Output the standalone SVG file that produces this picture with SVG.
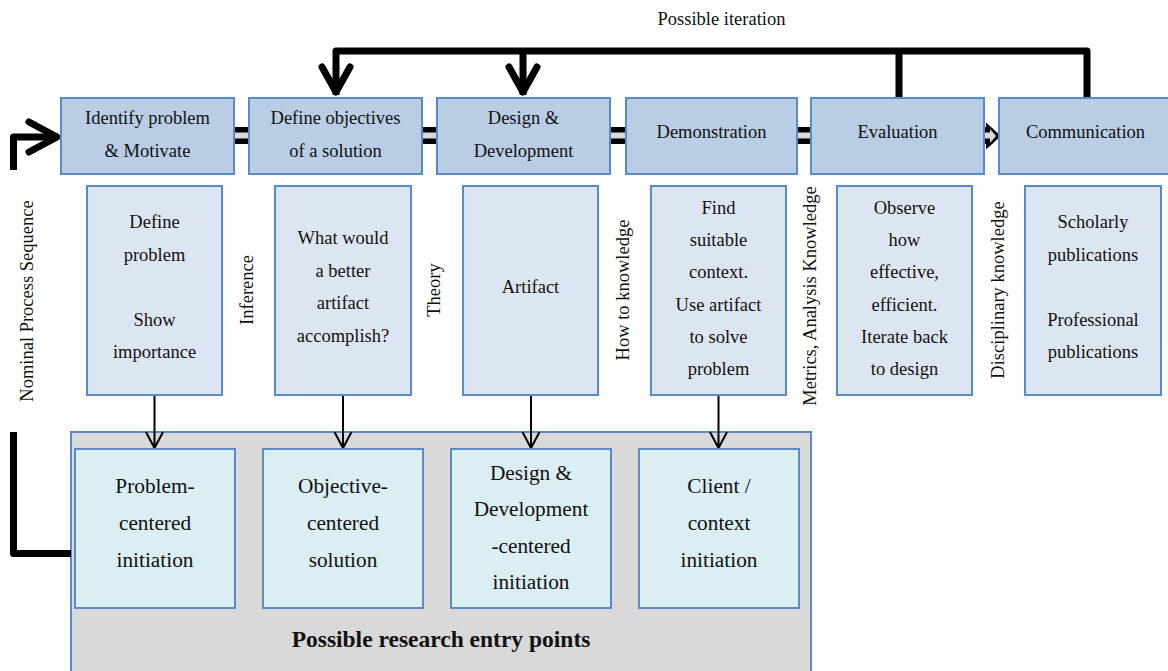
<svg xmlns="http://www.w3.org/2000/svg" width="1168" height="671" viewBox="0 0 1168 671">
<style>
text{font-family:"Liberation Serif","Times New Roman",serif;fill:#111;text-anchor:middle}
.t{font-size:18.5px}
.b{font-size:21.3px}
.h{font-size:23.5px;font-weight:bold}
.top{fill:#b9cde5;stroke:#5b8bc6;stroke-width:2}
.sub{fill:#dce6f2;stroke:#5b8bc6;stroke-width:2}
.inn{fill:#dbeef4;stroke:#5b8bc6;stroke-width:2}
.cont{fill:#d9d9d9;stroke:#5b8bc6;stroke-width:2}
.thick{fill:none;stroke:#000;stroke-width:7;stroke-linejoin:round;stroke-linecap:butt}
.chev{fill:none;stroke:#000;stroke-width:7;stroke-linejoin:round;stroke-linecap:round}
.thin{fill:none;stroke:#000;stroke-width:2}
</style>
<rect width="1168" height="671" fill="#fff"/>
<g id="entry-points">
<rect class="cont" x="71" y="432" width="740" height="245"/>
<text class="h" x="441" y="647">Possible research entry points</text>
</g>
<g id="connectors">
<polygon points="150,127 986,127 986,122.5 1001,136 986,149.5 986,144 150,144" fill="#000"/>
<polygon points="150,132.5 990,132.5 990,129 996,136 990,143 990,138.5 150,138.5" fill="#d9d9d9"/>
<path class="thick" d="M336 95 L336 51 L1087 51 L1087 98"/>
<path class="thick" d="M899 51 L899 98"/>
<path class="thick" d="M523 51 L523 95"/>
<path class="chev" d="M322 67 L336 92 L350 67"/>
<path class="chev" d="M509 67 L523 92 L537 67"/>
<path class="thick" d="M13.5 170 L13.5 137 L58 137"/>
<path class="chev" d="M29 122 L57 137 L29 152"/>
<path class="thick" d="M13.5 432 L13.5 553.5 L71 553.5"/>
<path class="thin" d="M154.5 395 L154.5 448 M146 432 L154.5 448 L163 432"/>
<path class="thin" d="M343 395 L343 448 M334.5 432 L343 448 L351.5 432"/>
<path class="thin" d="M531 395 L531 448 M522.5 432 L531 448 L539.5 432"/>
<path class="thin" d="M718.5 395 L718.5 448 M710 432 L718.5 448 L727 432"/>
</g>
<g id="labels">
<text class="t" x="721.5" y="25">Possible iteration</text>
<text class="t" transform="translate(33,301) rotate(-90)">Nominal Process Sequence</text>
<text class="t" transform="translate(253,290) rotate(-90)">Inference</text>
<text class="t" transform="translate(440,290) rotate(-90)">Theory</text>
<text class="t" transform="translate(629,290) rotate(-90)">How to knowledge</text>
<text class="t" transform="translate(816,296) rotate(-90)">Metrics, Analysis Knowledge</text>
<text class="t" transform="translate(1004,290) rotate(-90)">Disciplinary knowledge</text>
</g>
<g id="identify">
<rect class="top" x="61" y="98" width="173" height="76"/>
<text class="t" x="147.5" y="124">Identify problem</text>
<text class="t" x="147.5" y="157">&amp; Motivate</text>
</g>
<g id="objectives">
<rect class="top" x="249" y="98" width="173" height="76"/>
<text class="t" x="335.5" y="124">Define objectives</text>
<text class="t" x="335.5" y="157">of a solution</text>
</g>
<g id="design">
<rect class="top" x="437" y="98" width="173" height="76"/>
<text class="t" x="523.5" y="124">Design &amp;</text>
<text class="t" x="523.5" y="157">Development</text>
</g>
<g id="demonstration">
<rect class="top" x="626" y="98" width="171" height="76"/>
<text class="t" x="711.5" y="138">Demonstration</text>
</g>
<g id="evaluation">
<rect class="top" x="811" y="98" width="173" height="76"/>
<text class="t" x="897.5" y="138">Evaluation</text>
</g>
<g id="communication">
<rect class="top" x="999" y="98" width="173" height="76"/>
<text class="t" x="1085.5" y="138">Communication</text>
</g>
<g id="sub-identify">
<rect class="sub" x="87" y="186" width="135" height="209"/>
<text class="t" x="154.5" y="228">Define</text>
<text class="t" x="154.5" y="260.5">problem</text>
<text class="t" x="154.5" y="325.5">Show</text>
<text class="t" x="154.5" y="358">importance</text>
</g>
<g id="sub-objectives">
<rect class="sub" x="275" y="186" width="136" height="209"/>
<text class="t" x="343" y="244">What would</text>
<text class="t" x="343" y="276.5">a better</text>
<text class="t" x="343" y="309">artifact</text>
<text class="t" x="343" y="341.5">accomplish?</text>
</g>
<g id="sub-design">
<rect class="sub" x="463" y="186" width="135" height="209"/>
<text class="t" x="530.5" y="293">Artifact</text>
</g>
<g id="sub-demonstration">
<rect class="sub" x="651" y="186" width="135" height="209"/>
<text class="t" x="718.5" y="213.5">Find</text>
<text class="t" x="718.5" y="246">suitable</text>
<text class="t" x="718.5" y="278">context.</text>
<text class="t" x="718.5" y="310.5">Use artifact</text>
<text class="t" x="718.5" y="343">to solve</text>
<text class="t" x="718.5" y="375">problem</text>
</g>
<g id="sub-evaluation">
<rect class="sub" x="837" y="186" width="135" height="209"/>
<text class="t" x="904.5" y="213.5">Observe</text>
<text class="t" x="904.5" y="246">how</text>
<text class="t" x="904.5" y="278">effective,</text>
<text class="t" x="904.5" y="310.5">efficient.</text>
<text class="t" x="904.5" y="343">Iterate back</text>
<text class="t" x="904.5" y="375">to design</text>
</g>
<g id="sub-communication">
<rect class="sub" x="1025" y="186" width="136" height="209"/>
<text class="t" x="1093" y="228">Scholarly</text>
<text class="t" x="1093" y="260.5">publications</text>
<text class="t" x="1093" y="325.5">Professional</text>
<text class="t" x="1093" y="358">publications</text>
</g>
<g id="problem-centered">
<rect class="inn" x="75" y="449" width="160" height="159"/>
<text class="b" x="155" y="493">Problem-</text>
<text class="b" x="155" y="529.5">centered</text>
<text class="b" x="155" y="566.5">initiation</text>
</g>
<g id="objective-centered">
<rect class="inn" x="263" y="449" width="160" height="159"/>
<text class="b" x="343" y="493">Objective-</text>
<text class="b" x="343" y="529.5">centered</text>
<text class="b" x="343" y="566.5">solution</text>
</g>
<g id="design-centered">
<rect class="inn" x="451" y="449" width="160" height="159"/>
<text class="b" x="531" y="480">Design &amp;</text>
<text class="b" x="531" y="516">Development</text>
<text class="b" x="531" y="552.5">-centered</text>
<text class="b" x="531" y="588.5">initiation</text>
</g>
<g id="client-context">
<rect class="inn" x="639" y="449" width="160" height="159"/>
<text class="b" x="719" y="493">Client /</text>
<text class="b" x="719" y="529.5">context</text>
<text class="b" x="719" y="566.5">initiation</text>
</g>
</svg>
